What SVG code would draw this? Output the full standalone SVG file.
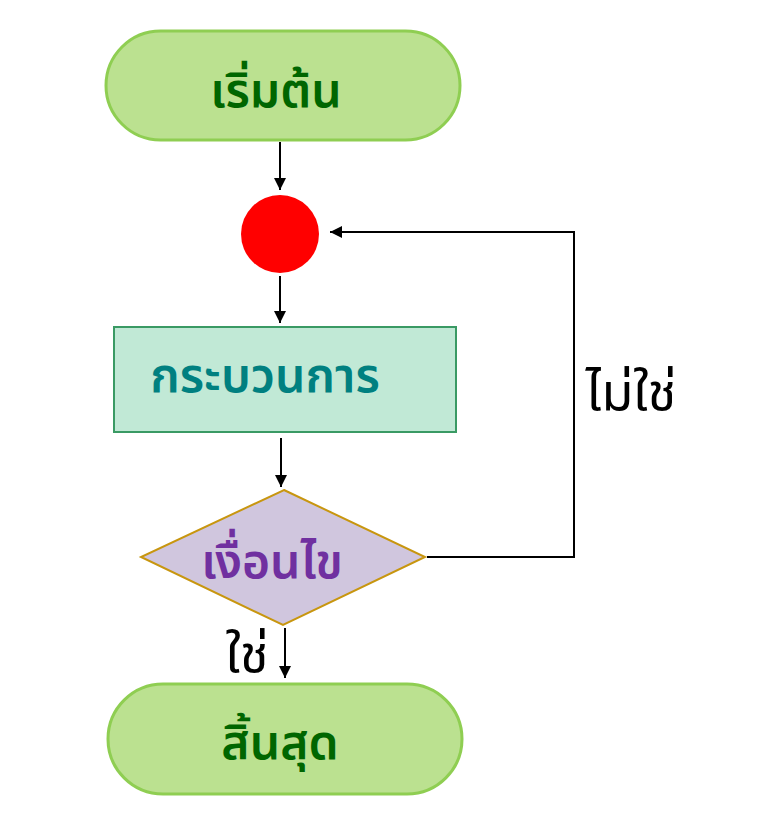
<svg xmlns="http://www.w3.org/2000/svg" width="759" height="832" viewBox="0 0 759 832">
<style>
text{font-family:"Noto Sans Thai","Noto Sans Thai UI","Noto Sans","DejaVu Sans",sans-serif;font-size:48px;text-anchor:middle}
.term{fill:#bbe190;stroke:#8fce52;stroke-width:3}
.tt{fill:#006600;font-weight:600}
.c{stroke:#000;stroke-width:2;fill:none}
.lbl{fill:#000;font-size:52px}
</style>
<defs>
<marker id="ah" viewBox="0 0 10 10" refX="10" refY="5" markerWidth="12" markerHeight="12" markerUnits="userSpaceOnUse" orient="auto"><path d="M0,0 L10,5 L0,10 z" fill="#000"/></marker>
</defs>
<g id="start"><rect class="term" x="106" y="31" width="354" height="109" rx="54.5"/><text class="tt" x="276" y="107">เริ่มต้น</text></g>
<g id="junction"><circle cx="280" cy="234" r="39" fill="#ff0000"/></g>
<g id="process"><rect x="114" y="327" width="342" height="105" fill="#c1e9d6" stroke="#3a9a64" stroke-width="2"/><text x="265" y="392" fill="#008080" font-weight="600">กระบวนการ</text></g>
<g id="decision"><polygon points="284,490 425,557 283,625 141,557" fill="#d0c6de" stroke="#c8960f" stroke-width="2"/><text x="272" y="578" fill="#7030a0" font-weight="600">เงื่อนไข</text></g>
<g id="end"><rect class="term" x="108" y="684" width="354" height="110" rx="55"/><text class="tt" x="280" y="759">สิ้นสุด</text></g>
<g id="connectors">
<line class="c" x1="280" y1="142" x2="280" y2="190" marker-end="url(#ah)"/>
<line class="c" x1="280" y1="276" x2="280" y2="323" marker-end="url(#ah)"/>
<line class="c" x1="281" y1="438" x2="281" y2="487" marker-end="url(#ah)"/>
<polyline class="c" points="427,557 574,557 574,232 330,232" marker-end="url(#ah)"/>
<line class="c" x1="285" y1="628" x2="285" y2="678" marker-end="url(#ah)"/>
<text class="lbl" x="631" y="410">ไม่ใช่</text>
<text class="lbl" x="247" y="672">ใช่</text>
</g>
</svg>
